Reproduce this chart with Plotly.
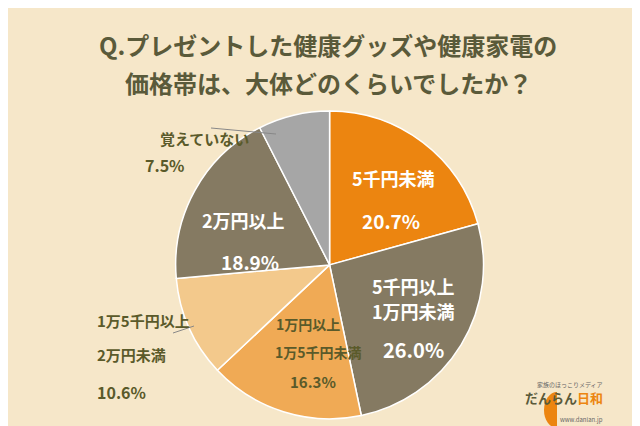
import plotly.graph_objects as go

labels = ["5千円未満", "5千円以上<br>1万円未満", "1万円以上<br>1万5千円未満", "1万5千円以上<br>2万円未満", "2万円以上", "覚えていない"]
values = [20.7, 26.0, 16.3, 10.6, 18.9, 7.5]
colors = ["#EC8510", "#857A62", "#F0AA55", "#F3C98C", "#857A62", "#A6A6A6"]

FONT = "Noto Sans CJK JP"
fig = go.Figure(go.Pie(
    labels=labels, values=values, sort=False, direction="clockwise", rotation=0,
    marker=dict(colors=colors, line=dict(color="white", width=1.5)),
    textinfo="none", hoverinfo="label+percent", showlegend=False,
    domain=dict(x=[0.262, 0.743], y=[0.035, 0.759]),
))

ann = []
def txt(x, y, t, size, color, bold=True):
    ann.append(dict(x=x, y=y, xref="paper", yref="paper", text=f"<b>{t}</b>" if bold else t,
                    showarrow=False, font=dict(family=FONT, size=size, color=color)))

white = "white"
green = "#5A5A2A"
# inside labels
txt(385/640, 1 - 170/426, "5千円未満", 18, white)
txt(383/640, 1 - 212/426, f"{values[0]}%", 19, white)
txt(405/640, 1 - 278/426, "5千円以上", 18, white)
txt(405/640, 1 - 318/426, "1万円未満", 18, white)
txt(405/640, 1 - 358/426, f"{values[1]}%", 20, white)
txt(300/640, 1 - 328/426, "1万円以上", 14, green)
txt(310/640, 1 - 356/426, "1万5千円未満", 14, green)
txt(305/640, 1 - 386/426, f"{values[2]}%", 15, green)
txt(235/640, 1 - 212/426, "2万円以上", 18, white)
txt(242/640, 1 - 254/426, f"{values[4]}%", 19, white)
# outside labels
txt(150/640, 1 - 118/426, "覚えていない", 15, green)
txt(135/640, 1 - 157/426, f"{values[5]}%", 16, green)
txt(87/640, 1 - 325/426, "1万5千円以上", 15, green)
txt(87/640, 1 - 359/426, "2万円未満", 15, green)
txt(87/640, 1 - 398/426, f"{values[3]}%", 16, green)
# title
txt(0.5, 1 - 17/426, "Q.プレゼントした健康グッズや健康家電の", 24, "#5A5A3A")
txt(0.5, 1 - 55/426, "価格帯は、大体どのくらいでしたか？", 24, "#5A5A3A")
# logo
txt(597/640, 1 - 383/426, "家族のほっこりメディア", 6, "#666", bold=False)
ann.append(dict(x=597/640, y=1 - 401/426, xref="paper", yref="paper", showarrow=False,
                text="<b>だんらん<span style='color:#EC8510'>日和</span></b>",
                font=dict(family=FONT, size=13, color="#5A5A3A")))
txt(597/640, 1 - 418/426, "www.danlan.jp", 6, "#666", bold=False)

fig.update_layout(
    width=640, height=426, margin=dict(l=0, r=0, t=0, b=0),
    paper_bgcolor="#F6E7C9", plot_bgcolor="#F6E7C9",
    annotations=ann,
    shapes=[
        dict(type="line", xref="paper", yref="paper", x0=203/640, y0=1 - 120/426, x1=268/640, y1=1 - 126/426,
             line=dict(color="#888", width=1)),
        dict(type="line", xref="paper", yref="paper", x0=165/640, y0=1 - 325/426, x1=186/640, y1=1 - 318/426,
             line=dict(color="#888", width=1)),
        dict(type="circle", xref="paper", yref="paper", x0=536/640, y0=1 - 420/426, x1=562/640, y1=1 - 384/426,
             fillcolor="#EC8510", line=dict(width=0), layer="below"),
        dict(type="rect", xref="paper", yref="paper", x0=549/640, y0=1 - 422/426, x1=566/640, y1=1 - 380/426,
             fillcolor="#F6E7C9", line=dict(width=0), layer="below"),
    ],
)
fig.write_html("out.html")
